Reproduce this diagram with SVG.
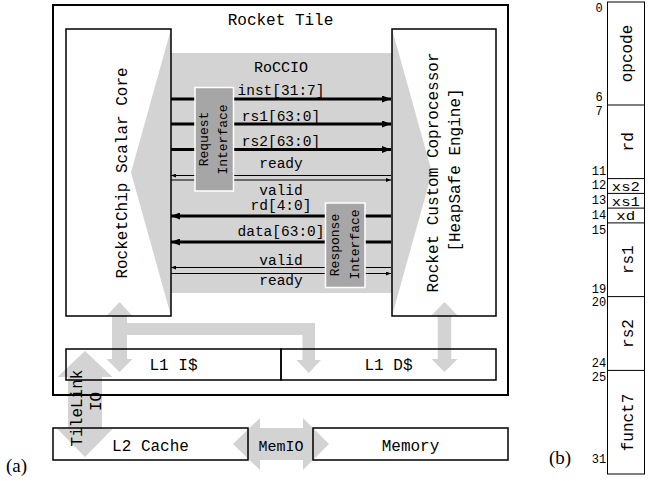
<svg xmlns="http://www.w3.org/2000/svg" width="649" height="481" viewBox="0 0 649 481">
<style>
.mono{font-family:"Liberation Mono","DejaVu Sans Mono",monospace;fill:#000}
.big{font-size:16px}
.sig{font-size:14.5px}
.ifc{font-size:13px}
.bit{font-size:12px}
.xs{font-size:13px}
.mid{text-anchor:middle}
.box{fill:none;stroke:#000;stroke-width:1.5}
.tile{fill:none;stroke:#000;stroke-width:2}
.gray{fill:#d3d3d3}
.thick{stroke:#000;stroke-width:3;fill:none}
.thin{stroke:#000;stroke-width:1.2;fill:none}
.ifbox{fill:#a6a6a6;stroke:#fff;stroke-width:1.5}
.serif{font-family:"Liberation Serif","Times New Roman",serif;font-size:19px;fill:#000}
.fld{fill:none;stroke:#000;stroke-width:1}
</style>
<defs>
<marker id="ahB" viewBox="0 0 9 7" refX="9" refY="3.5" markerWidth="9" markerHeight="7" markerUnits="userSpaceOnUse" orient="auto"><path d="M0,0 L9,3.5 L0,7 z" fill="#000"/></marker>
<marker id="ahS" viewBox="0 0 5 4" refX="5" refY="2" markerWidth="5" markerHeight="4" markerUnits="userSpaceOnUse" orient="auto"><path d="M0,0 L5,2 L0,4 z" fill="#000"/></marker>
</defs>
<rect width="649" height="481" fill="#fff"/>

<g id="roccio">
<polygon class="gray" points="131,172.5 171,29 171,53 392,53 392,29 432,172.5 392,316 392,293 171,293 171,316"/>
<text class="mono mid" x="281" y="71.5" font-size="15">RoCCIO</text>
</g>

<g id="connectors">
<line class="thick" x1="171" y1="99" x2="391" y2="99" marker-end="url(#ahB)"/>
<line class="thick" x1="171" y1="124" x2="391" y2="124" marker-end="url(#ahB)"/>
<line class="thick" x1="171" y1="149.5" x2="391" y2="149.5" marker-end="url(#ahB)"/>
<line class="thin" x1="391" y1="175.5" x2="171" y2="175.5" marker-end="url(#ahS)"/>
<line class="thin" x1="171" y1="180" x2="391" y2="180" marker-end="url(#ahS)"/>
<line class="thick" x1="391" y1="216" x2="171" y2="216" marker-end="url(#ahB)"/>
<line class="thick" x1="391" y1="242" x2="171" y2="242" marker-end="url(#ahB)"/>
<line class="thin" x1="391" y1="267.5" x2="171" y2="267.5" marker-end="url(#ahS)"/>
<line class="thin" x1="171" y1="273.5" x2="391" y2="273.5" marker-end="url(#ahS)"/>
<text class="mono sig mid" x="281" y="95">inst[31:7]</text>
<text class="mono sig mid" x="281" y="121">rs1[63:0]</text>
<text class="mono sig mid" x="281" y="146">rs2[63:0]</text>
<text class="mono sig mid" x="281" y="168">ready</text>
<text class="mono sig mid" x="281" y="195">valid</text>
<text class="mono sig mid" x="281" y="210">rd[4:0]</text>
<text class="mono sig mid" x="281" y="236">data[63:0]</text>
<text class="mono sig mid" x="281" y="264.5">valid</text>
<text class="mono sig mid" x="281" y="284.5">ready</text>

<polygon class="gray" points="119.5,302 132.5,316 127,316 127,359 132.5,359 119.5,372 106.5,359 112,359 112,316 106.5,316"/>
<polygon class="gray" points="127,323 315,323 315,360 321,360 308.75,373 296.5,360 302.5,360 302.5,335 127,335"/>
<polygon class="gray" points="444.5,302 457.5,315.5 451.25,315.5 451.25,359 457.5,359 444.5,372 431.5,359 437.75,359 437.75,315.5 431.5,315.5"/>
<polygon class="gray" points="85,351 112.5,377 102,377 102,429 112.5,429 85,457 57.5,429 68,429 68,377 57.5,377"/>
<polygon class="gray" points="233,444 260,418 260,428 303,428 303,418 329,444 303,470 303,460 260,460 260,470"/>
<text class="mono big mid" transform="translate(82.3,408) rotate(-90)">TileLink</text>
<text class="mono big mid" transform="translate(100.6,401.5) rotate(-90)">IO</text>
<text class="mono mid" x="281" y="450.5" font-size="15">MemIO</text>
</g>

<g id="request-interface">
<rect class="ifbox" x="195" y="87.5" width="38.5" height="103.5"/>
<text class="mono ifc mid" transform="translate(208,139) rotate(-90)">Request</text>
<text class="mono ifc mid" transform="translate(227,139.5) rotate(-90)">Interface</text>
</g>
<g id="response-interface">
<rect class="ifbox" x="325.5" y="203" width="39.5" height="84.5"/>
<text class="mono ifc mid" transform="translate(338.6,245) rotate(-90)">Response</text>
<text class="mono ifc mid" transform="translate(358.6,244.5) rotate(-90)">Interface</text>
</g>

<g id="rocket-tile">
<rect class="tile" x="53" y="5" width="455" height="390"/>
<text class="mono big mid" x="280.5" y="25">Rocket Tile</text>
</g>
<g id="core">
<rect class="box" x="66" y="29" width="105" height="287"/>
<text class="mono big mid" transform="translate(126.5,173) rotate(-90)">RocketChip Scalar Core</text>
</g>
<g id="coprocessor">
<rect class="box" x="392" y="29" width="104" height="287"/>
<text class="mono big mid" transform="translate(438,172.5) rotate(-90)">Rocket Custom Coprocessor</text>
<text class="mono big mid" transform="translate(460,170) rotate(-90)">[HeapSafe Engine]</text>
</g>
<g id="l1i">
<rect class="box" x="66" y="349" width="215" height="31"/>
<text class="mono big mid" x="173.5" y="370">L1 I$</text>
</g>
<g id="l1d">
<rect class="box" x="281" y="349" width="215" height="31"/>
<text class="mono big mid" x="388.5" y="370">L1 D$</text>
</g>
<g id="l2">
<rect class="box" x="53" y="428" width="195" height="32"/>
<text class="mono big mid" x="150.5" y="450.5">L2 Cache</text>
</g>
<g id="memory">
<rect class="box" x="313" y="428" width="195" height="32"/>
<text class="mono big mid" x="410.5" y="450.5">Memory</text>
</g>
<text class="serif" x="6" y="471.5">(a)</text>

<g id="instruction-format">
<rect class="fld" x="607.5" y="2" width="37" height="472"/>
<line class="fld" x1="607.5" y1="105" x2="644.5" y2="105"/>
<line class="fld" x1="607.5" y1="178.6" x2="644.5" y2="178.6"/>
<line class="fld" x1="607.5" y1="193.4" x2="644.5" y2="193.4"/>
<line class="fld" x1="607.5" y1="208.1" x2="644.5" y2="208.1"/>
<line class="fld" x1="607.5" y1="222.9" x2="644.5" y2="222.9"/>
<line class="fld" x1="607.5" y1="296.6" x2="644.5" y2="296.6"/>
<line class="fld" x1="607.5" y1="370.4" x2="644.5" y2="370.4"/>
<text class="mono big mid" transform="translate(632,53.5) rotate(-90)">opcode</text>
<text class="mono big mid" transform="translate(632.5,141.8) rotate(-90)">rd</text>
<text class="mono xs mid" x="625.8" y="190.8" textLength="28" lengthAdjust="spacingAndGlyphs">xs2</text>
<text class="mono xs mid" x="625.8" y="205.6" textLength="28" lengthAdjust="spacingAndGlyphs">xs1</text>
<text class="mono xs mid" x="625.8" y="220.3" textLength="19" lengthAdjust="spacingAndGlyphs">xd</text>
<text class="mono big mid" transform="translate(632.8,259.7) rotate(-90)">rs1</text>
<text class="mono big mid" transform="translate(632.8,333.5) rotate(-90)">rs2</text>
<text class="mono big mid" transform="translate(632.8,422.5) rotate(-90)">funct7</text>
<g class="mono bit mid">
<text x="599" y="11.5">0</text>
<text x="599" y="101">6</text>
<text x="599" y="115">7</text>
<text x="599" y="175">11</text>
<text x="599" y="188.5">12</text>
<text x="599" y="203.5">13</text>
<text x="599" y="218.5">14</text>
<text x="599" y="233.5">15</text>
<text x="599" y="292.5">19</text>
<text x="599" y="306">20</text>
<text x="599" y="367">24</text>
<text x="599" y="380.5">25</text>
<text x="599" y="463">31</text>
</g>
</g>
<text class="serif" x="549" y="463.5">(b)</text>
</svg>
